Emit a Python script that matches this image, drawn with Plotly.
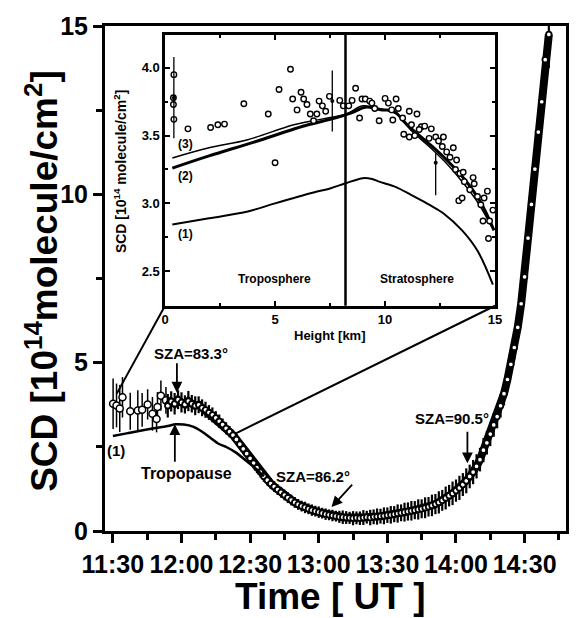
import plotly.graph_objects as go

# ---------------- main panel data (time in minutes after 11:00 UT) -------------
early_t = [30.1, 31.6, 33.0, 34.2, 37.6, 40.9, 42.8, 45.2, 47.3, 49.1, 49.5, 51.0, 53.2]
early_v = [3.78, 3.73, 3.64, 3.97, 3.56, 3.58, 3.60, 3.76, 3.48, 3.33, 3.68, 4.02, 3.88]
early_e = [0.75, 0.65, 0.70, 0.60, 0.55, 0.60, 0.50, 0.45, 0.50, 0.40, 0.45, 0.45, 0.40]

band_t = [54, 55.5, 57, 58.5, 60, 61.5, 63, 64.5, 66, 67.5,
          69, 70.5, 72, 73.5, 75, 76.5, 78, 79.5, 81, 82.5,
          84, 85.5, 87, 88.5, 90, 91.5, 93, 94.5, 96, 97.5,
          99, 100.5, 102, 103.5, 105, 106.5, 108, 109.5, 111, 112.5,
          114, 115.5, 117, 118.5, 120, 121.5, 123, 124.5, 126, 127.5,
          129, 130.5, 132, 133.5, 135, 136.5, 138, 139.5, 141, 142.5,
          144, 145.5, 147, 148.5, 150, 151.5, 153, 154.5, 156, 157.5,
          159, 160.5, 162, 163.5, 165, 166.5, 168, 169.5, 171, 172.5,
          174, 175.5, 177, 178.5, 180, 181.5, 183, 184.5, 186, 187.5,
          189, 190.5, 192, 193.5, 195, 196.5, 198, 199.5, 201, 202.5,
          204, 205.5, 207, 208.5, 210, 211.5, 213, 214.5, 216, 217.5,
          219, 220.6]
band_v = [3.72, 3.85, 3.78, 3.90, 3.82, 3.76, 3.86, 3.78, 3.72, 3.75,
          3.66, 3.60, 3.52, 3.45, 3.36, 3.26, 3.16, 3.05, 2.95, 2.85,
          2.72, 2.58, 2.44, 2.30, 2.16, 2.02, 1.88, 1.75, 1.62, 1.51,
          1.41, 1.32, 1.23, 1.15, 1.07, 0.99, 0.92, 0.85, 0.79, 0.74,
          0.70, 0.66, 0.62, 0.59, 0.56, 0.53, 0.50, 0.48, 0.46, 0.44,
          0.42, 0.41, 0.40, 0.39, 0.38, 0.39, 0.38, 0.40, 0.41, 0.40,
          0.42, 0.43, 0.44, 0.45, 0.47, 0.48, 0.50, 0.52, 0.54, 0.56,
          0.58, 0.60, 0.62, 0.64, 0.66, 0.69, 0.72, 0.76, 0.80, 0.85,
          0.91, 0.98, 1.05, 1.12, 1.20, 1.28, 1.38, 1.49, 1.62, 1.75,
          1.92, 2.12, 2.40, 2.62, 2.88, 3.15, 3.40, 3.72, 4.08, 4.50,
          4.95, 5.45, 6.05, 6.75, 7.55, 8.70, 9.70, 10.75, 11.85, 12.75,
          14.0, 14.75]
band_e = [0.35, 0.30, 0.32, 0.28, 0.30, 0.27, 0.30, 0.26, 0.28, 0.25,
          0.25, 0.24, 0.22, 0.22, 0.20, 0.20, 0.18, 0.18, 0.17, 0.16,
          0.16, 0.16, 0.16, 0.16, 0.16, 0.16, 0.16, 0.16, 0.16, 0.16,
          0.16, 0.16, 0.16, 0.16, 0.16, 0.16, 0.16, 0.16, 0.16, 0.16,
          0.17, 0.16, 0.17, 0.16, 0.17, 0.16, 0.17, 0.16, 0.17, 0.16,
          0.18, 0.20, 0.19, 0.18, 0.21, 0.19, 0.20, 0.22, 0.19, 0.23,
          0.22, 0.24, 0.22, 0.25, 0.23, 0.26, 0.24, 0.27, 0.25, 0.28,
          0.27, 0.29, 0.27, 0.30, 0.28, 0.31, 0.29, 0.32, 0.30, 0.33,
          0.31, 0.34, 0.32, 0.35, 0.33, 0.36, 0.34, 0.37, 0.35, 0.36,
          0.36, 0.35, 0.36, 0.35, 0.36, 0.35, 0.35, 0.35, 0.35, 0.35,
          0.35, 0.35, 0.35, 0.35, 0.35, 0.35, 0.35, 0.35, 0.35, 0.35,
          0.35, 1.00]

model1_t = [30, 36, 42, 48, 54, 57.5, 61, 65, 69, 73, 76, 80, 84, 88, 92, 96]
model1_v = [2.82, 2.90, 2.98, 3.05, 3.12, 3.17, 3.16, 3.10, 2.95, 2.75, 2.60, 2.48, 2.32, 2.10, 1.88, 1.62]

x_tickvals = [30, 60, 90, 120, 150, 180, 210]
x_ticktext = ["11:30", "12:00", "12:30", "13:00", "13:30", "14:00", "14:30"]
x_minor = [45, 75, 105, 135, 165, 195, 225]
y_tickvals = [0, 5, 10, 15]
y_minor = [2.5, 7.5, 12.5]

# ---------------- inset data (height in km) ----------------
m3_h = [0.33, 2.0, 3.76, 5.85, 7.05, 8.24, 8.98, 9.73, 10.5, 11.23, 12.0, 12.7, 13.5, 14.2, 14.87]
m3_v = [3.335, 3.41, 3.47, 3.58, 3.62, 3.66, 3.72, 3.70, 3.66, 3.53, 3.42, 3.31, 3.16, 3.01, 2.82]
m2_h = [0.33, 2.0, 4.0, 6.5, 7.5, 8.5, 9.1, 9.8, 10.4, 11.0, 12.0, 12.8, 13.6, 14.3, 14.95]
m2_v = [3.26, 3.35, 3.45, 3.58, 3.62, 3.67, 3.71, 3.69, 3.68, 3.58, 3.44, 3.32, 3.18, 3.02, 2.80]
m1_h = [0.33, 2.0, 3.76, 5.0, 6.75, 7.5, 8.24, 8.99, 9.4, 9.73, 10.5, 11.2, 12.0, 12.7, 13.5, 14.2, 14.9]
m1_v = [2.843, 2.89, 2.94, 3.00, 3.08, 3.11, 3.15, 3.186, 3.18, 3.16, 3.12, 3.06, 2.99, 2.92, 2.80, 2.65, 2.40]

pts_h = [0.4, 0.38, 0.38, 0.4, 1.04, 2.07, 2.4, 2.7, 3.58, 4.69, 5.0, 5.18, 5.7, 5.8, 6.0,
         6.18, 6.3, 6.45, 6.6, 6.75, 6.9, 7.0, 7.15, 7.3, 7.47, 7.94, 8.1, 8.35, 8.5, 8.66,
         8.84, 8.95, 9.1, 9.3, 9.4, 9.53, 9.73, 10.0, 10.15, 10.3, 10.5, 10.35, 10.6, 10.8, 11.1,
         11.2, 11.45, 11.65, 10.85, 11.1, 11.35, 11.55, 11.8, 12.0, 12.1, 12.3, 12.43, 12.6, 12.65, 12.8,
         12.95, 13.1, 13.2, 13.25, 13.4, 13.55, 13.6, 13.85, 14.0, 14.05, 14.2, 14.35, 14.5, 14.65, 14.75,
         14.9, 14.7, 13.35, 13.5, 14.45]
pts_v = [3.95, 3.78, 3.73, 3.62, 3.55, 3.56, 3.58, 3.585, 3.735, 3.66, 3.30, 3.84, 3.99, 3.77, 3.69,
         3.82, 3.77, 3.73, 3.66, 3.61, 3.66, 3.755, 3.72, 3.68, 3.79, 3.76, 3.72, 3.72, 3.76, 3.85,
         3.63, 3.77, 3.77, 3.755, 3.74, 3.70, 3.61, 3.775, 3.74, 3.69, 3.77, 3.615, 3.70, 3.63, 3.68,
         3.58, 3.66, 3.565, 3.51, 3.49, 3.50, 3.545, 3.57, 3.48, 3.55, 3.49, 3.46, 3.42, 3.49, 3.38,
         3.34, 3.41, 3.25, 3.32, 3.22, 3.23, 3.16, 3.10, 3.19, 3.145, 3.05, 2.99, 3.04, 3.09, 2.87,
         2.95, 2.74, 3.02, 3.04, 2.87]
eb_h = [0.4, 7.6, 12.3]
eb_v = [3.78, 3.755, 3.30]
eb_plus = [0.30, 0.225, 0.07]
eb_minus = [0.30, 0.225, 0.24]

tropopause_km = 8.2

BLACK = "black"
FONT = "Liberation Sans, Arial, Helvetica, sans-serif"

fig = go.Figure()

# main panel
fig.add_trace(go.Scatter(
    x=early_t, y=early_v, mode="markers", xaxis="x", yaxis="y",
    marker=dict(symbol="circle", size=7, color="white", line=dict(color=BLACK, width=1.5)),
    error_y=dict(type="data", array=early_e, color=BLACK, thickness=1.5, width=0),
    showlegend=False))
fig.add_trace(go.Scatter(
    x=band_t, y=band_v, mode="lines", xaxis="x", yaxis="y",
    line=dict(color=BLACK, width=8), showlegend=False))
fig.add_trace(go.Scatter(
    x=band_t, y=band_v, mode="markers", xaxis="x", yaxis="y",
    marker=dict(symbol="circle", size=5.5, color="white", line=dict(color=BLACK, width=1.8)),
    error_y=dict(type="data", array=band_e, color=BLACK, thickness=2.2, width=0),
    showlegend=False))
fig.add_trace(go.Scatter(
    x=model1_t, y=model1_v, mode="lines", xaxis="x", yaxis="y",
    line=dict(color=BLACK, width=2.5, shape="spline"), showlegend=False))

# inset
fig.add_trace(go.Scatter(x=m1_h, y=m1_v, mode="lines", xaxis="x2", yaxis="y2",
                         line=dict(color=BLACK, width=2, shape="spline"), showlegend=False))
fig.add_trace(go.Scatter(x=m3_h, y=m3_v, mode="lines", xaxis="x2", yaxis="y2",
                         line=dict(color=BLACK, width=1.5, shape="spline"), showlegend=False))
fig.add_trace(go.Scatter(x=m2_h, y=m2_v, mode="lines", xaxis="x2", yaxis="y2",
                         line=dict(color=BLACK, width=3, shape="spline"), showlegend=False))
fig.add_trace(go.Scatter(x=pts_h, y=pts_v, mode="markers", xaxis="x2", yaxis="y2",
                         marker=dict(symbol="circle", size=5.5, color="white",
                                     line=dict(color=BLACK, width=1.4)),
                         showlegend=False))
fig.add_trace(go.Scatter(x=eb_h, y=eb_v, mode="markers", xaxis="x2", yaxis="y2",
                         marker=dict(symbol="circle", size=4, color=BLACK),
                         error_y=dict(type="data", symmetric=False, array=eb_plus,
                                      arrayminus=eb_minus, color=BLACK, thickness=1.3, width=0),
                         showlegend=False))

main_xrange = [26.56, 228.1]
main_yrange = [0, 15]

axis_common = dict(showgrid=False, zeroline=False, showline=True, linecolor=BLACK)

# the page body adds an 8 px offset at top/left, so the figure is 8 px smaller
fig.update_layout(
    width=569, height=610,
    margin=dict(l=97, r=4, t=16, b=87),
    plot_bgcolor="white", paper_bgcolor="white",
    font=dict(family=FONT, color=BLACK),
    xaxis=dict(**axis_common, range=main_xrange, domain=[0, 1], anchor="y",
               linewidth=3, mirror=True,
               tickmode="array", tickvals=x_tickvals, ticktext=x_ticktext,
               ticks="outside", ticklen=9, tickwidth=2.5, tickcolor=BLACK,
               tickfont=dict(family=FONT, size=25, weight="bold"),
               minor=dict(tickvals=x_minor, ticks="outside", ticklen=6, tickwidth=2.5, tickcolor=BLACK)),
    xaxis3=dict(showgrid=False, zeroline=False, showline=False, range=main_xrange,
                overlaying="x", side="top", anchor="y",
                tickmode="array", tickvals=x_tickvals + x_minor, ticks="inside",
                ticklen=7, tickwidth=2, tickcolor=BLACK, showticklabels=False),
    yaxis=dict(**axis_common, range=main_yrange, domain=[0, 1], anchor="x",
               linewidth=3, mirror=True,
               tickmode="array", tickvals=y_tickvals,
               ticks="outside", ticklen=9, tickwidth=2.5, tickcolor=BLACK,
               tickfont=dict(family=FONT, size=25, weight="bold"),
               minor=dict(tickvals=y_minor, ticks="outside", ticklen=6, tickwidth=2.5, tickcolor=BLACK)),
    yaxis3=dict(showgrid=False, zeroline=False, showline=False, range=main_yrange,
                overlaying="y", side="right", anchor="x",
                tickmode="array", tickvals=y_tickvals + y_minor, ticks="inside",
                ticklen=7, tickwidth=2, tickcolor=BLACK, showticklabels=False),
    xaxis2=dict(**axis_common, range=[0, 15], domain=[0.1303, 0.8462], anchor="y2",
                linewidth=2.5, mirror="allticks",
                tickmode="array", tickvals=[0, 5, 10, 15],
                ticks="inside", ticklen=5, tickwidth=1.5, tickcolor=BLACK,
                tickfont=dict(family=FONT, size=13, weight="bold"),
                minor=dict(tickvals=[2.5, 7.5, 12.5], ticks="inside", ticklen=3, tickwidth=1.5)),
    yaxis2=dict(**axis_common, range=[2.243, 4.243], domain=[0.4458, 0.9822], anchor="x2",
                linewidth=2.5, mirror="allticks",
                tickmode="array", tickvals=[2.5, 3.0, 3.5, 4.0], tickformat=".1f",
                ticks="inside", ticklen=5, tickwidth=1.5, tickcolor=BLACK,
                tickfont=dict(family=FONT, size=13, weight="bold"),
                minor=dict(tickvals=[2.75, 3.25, 3.75, 4.25], ticks="inside", ticklen=3, tickwidth=1.5)),
)

# connecting lines from inset corners to the main data, tropopause line in inset
fig.add_shape(type="line", xref="x", yref="y", x0=52.8, y0=6.69, x1=31.7, y1=4.08,
              line=dict(color=BLACK, width=2))
fig.add_shape(type="line", xref="x", yref="y", x0=197.1, y0=6.69, x1=83.8, y1=2.9,
              line=dict(color=BLACK, width=2))
fig.add_shape(type="line", xref="x2", yref="y2 domain", x0=tropopause_km, x1=tropopause_km,
              y0=0, y1=1, line=dict(color=BLACK, width=2.5))

def text(x, y, s, size, xref="x", yref="y", angle=0, xanchor="center"):
    fig.add_annotation(x=x, y=y, xref=xref, yref=yref, text=s, showarrow=False,
                       textangle=angle, xanchor=xanchor, yanchor="middle",
                       font=dict(family=FONT, size=size, color=BLACK, weight="bold"))

def arrow(x, y, ax, ay):
    fig.add_annotation(x=x, y=y, xref="x", yref="y", text="", showarrow=True,
                       ax=ax, ay=ay, arrowhead=2, arrowsize=1.2, arrowwidth=1.8,
                       arrowcolor=BLACK, standoff=0)

# axis titles
text(-0.137, 0.495, "SCD [10<sup>14</sup>molecule/cm<sup>2</sup>]", 37, "paper", "paper", -90)
text(0.49, -0.130, "Time [ UT ]", 37, "paper", "paper")
text(0.034, 0.712, "SCD [10<sup>14</sup> molecule/cm<sup>2</sup>]", 14, "paper", "paper", -90)
text(0.487, 0.3866, "Height [km]", 13, "paper", "paper")

# main annotations
text(64.0, 5.28, "SZA=83.3°", 15)
arrow(58.0, 4.11, 0, -31)
text(62.3, 1.70, "Tropopause", 16)
arrow(57.1, 3.17, 0, 39)
text(117.6, 1.63, "SZA=86.2°", 15)
arrow(125.6, 0.71, 22, -24)
text(178.1, 3.34, "SZA=90.5°", 15)
arrow(185.0, 2.01, 0, -33)
text(31.3, 2.40, "(1)", 15)

# inset annotations
text(0.93, 3.44, "(3)", 12, "x2", "y2")
text(0.93, 3.20, "(2)", 12, "x2", "y2")
text(0.93, 2.77, "(1)", 12, "x2", "y2")
text(4.96, 2.44, "Troposphere", 12, "x2", "y2")
text(11.45, 2.44, "Stratosphere", 12, "x2", "y2")

fig.write_html("out.html")
